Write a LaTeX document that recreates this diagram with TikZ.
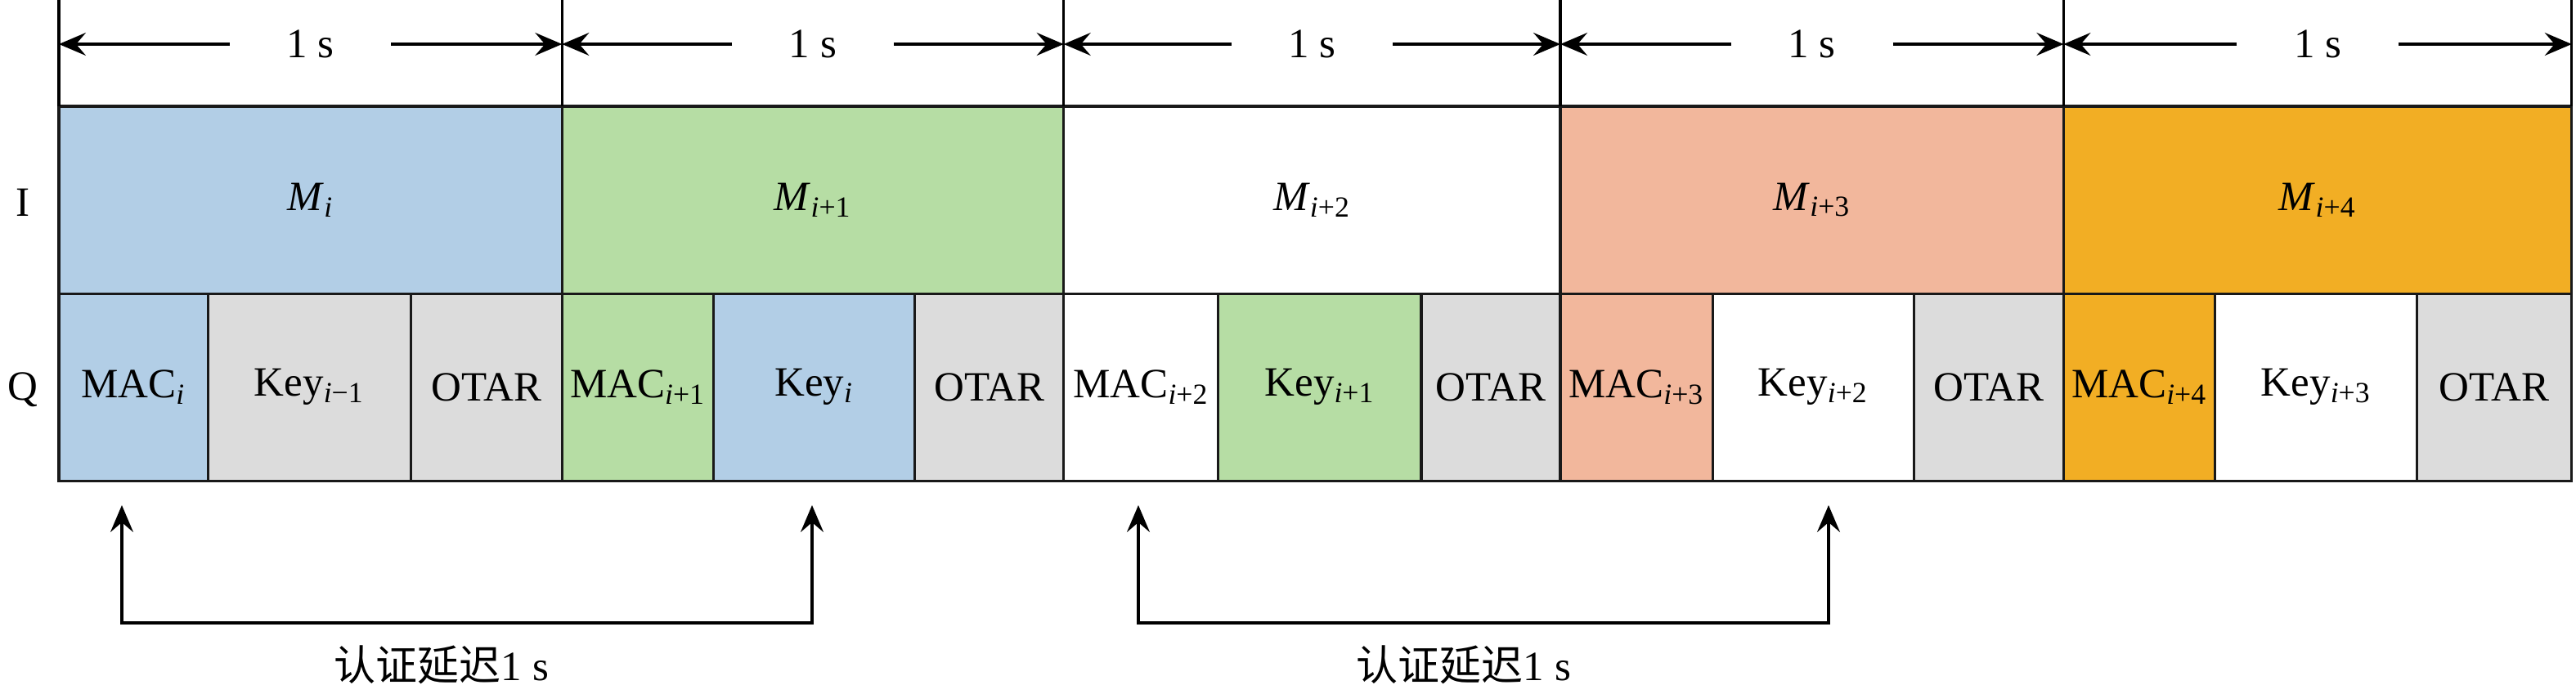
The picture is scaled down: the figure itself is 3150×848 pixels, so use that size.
\documentclass[tikz,border=0pt]{standalone}
\usepackage{fontspec}
\setmainfont{Liberation Serif}
\newfontfamily\cjk{Noto Sans CJK SC}
\usetikzlibrary{positioning,arrows.meta}
\definecolor{slotblue}{RGB}{178,206,230}
\definecolor{slotgreen}{RGB}{182,221,164}
\definecolor{slotsalmon}{RGB}{242,183,156}
\definecolor{slotorange}{RGB}{242,174,36}
\definecolor{slotgray}{RGB}{220,220,220}
\newcommand{\sub}[2]{#1\textsubscript{\textit{i}#2}}
\begin{document}
\begin{tikzpicture}[x=0.01cm, y=-0.01cm,
    every node/.style={font=\fontsize{14.5}{17}\selectfont},
    slot/.style={draw=black!90, line width=0.9pt, outer sep=0pt, inner sep=0pt, minimum height=2.29cm},
    frame/.style={slot, minimum width=#1},
    macbox/.style={slot, minimum width=#1},
    keybox/.style={slot, minimum width=#1},
    otarbox/.style={slot, minimum width=#1, fill=slotgray},
    span/.style={-{Stealth[length=3.3mm, width=2.8mm, inset=1.2mm]}, line width=0.9pt},
    delay/.style={{Stealth[length=3.3mm, width=2.8mm, inset=1.2mm]}-{Stealth[length=3.3mm, width=2.8mm, inset=1.2mm]}, line width=0.9pt}]
  \useasboundingbox (0,0) rectangle (3150,848);
  % I row
  \node[frame=6.15cm, anchor=north west, fill=slotblue] (M0) at (72,130) {\sub{\textit{M}}{}};
  \node[frame=6.13cm, right=0pt of M0, fill=slotgreen] (M1) {\sub{\textit{M}}{+1}};
  \node[frame=6.07cm, right=0pt of M1, fill=white] (M2) {\sub{\textit{M}}{+2}};
  \node[frame=6.15cm, right=0pt of M2, fill=slotsalmon] (M3) {\sub{\textit{M}}{+3}};
  \node[frame=6.21cm, right=0pt of M3, fill=slotorange] (M4) {\sub{\textit{M}}{+4}};
  % Q row
  \node[macbox=1.82cm, anchor=north west, fill=slotblue] (mac0) at (M0.south west) {\sub{MAC}{}};
  \node[keybox=2.48cm, right=0pt of mac0, fill=slotgray] (key0) {\sub{Key}{−1}};
  \node[otarbox=1.85cm, right=0pt of key0] (otar0) {OTAR};
  \node[macbox=1.85cm, right=0pt of otar0, fill=slotgreen] (mac1) {\sub{MAC}{+1}};
  \node[keybox=2.46cm, right=0pt of mac1, fill=slotblue] (key1) {\sub{Key}{}};
  \node[otarbox=1.82cm, right=0pt of key1] (otar1) {OTAR};
  \node[macbox=1.89cm, right=0pt of otar1, fill=white] (mac2) {\sub{MAC}{+2}};
  \node[keybox=2.48cm, right=0pt of mac2, fill=slotgreen] (key2) {\sub{Key}{+1}};
  \node[otarbox=1.70cm, right=0pt of key2] (otar2) {OTAR};
  \node[macbox=1.86cm, right=0pt of otar2, fill=slotsalmon] (mac3) {\sub{MAC}{+3}};
  \node[keybox=2.46cm, right=0pt of mac3, fill=white] (key3) {\sub{Key}{+2}};
  \node[otarbox=1.83cm, right=0pt of key3] (otar3) {OTAR};
  \node[macbox=1.85cm, right=0pt of otar3, fill=slotorange] (mac4) {\sub{MAC}{+4}};
  \node[keybox=2.47cm, right=0pt of mac4, fill=white] (key4) {\sub{Key}{+3}};
  \node[otarbox=1.89cm, right=0pt of key4] (otar4) {OTAR};
  % row labels
  \node (rowI) at (28,248) {I};
  \node (rowQ) at (28,477) {Q};
  % 1 s spans
  \foreach \n in {0,...,4}
    \coordinate (t\n) at (M\n.north west |- 0,0);
  \coordinate (t5) at (M4.north east |- 0,0);
  \foreach \n in {0,...,4}
    \draw[line width=0.9pt] (t\n) -- (M\n.north west);
  \draw[line width=0.9pt] (t5) -- (M4.north east);
  \foreach \n [evaluate=\n as \m using int(\n+1)] in {0,...,4} {
    \path (M\n.north) ++(0,-76) node[inner sep=0pt, minimum width=1.96cm] (s\n) {1 s};
    \draw[span] (s\n.west) -- (s\n.west -| t\n);
    \draw[span] (s\n.east) -- (s\n.east -| t\m);
  }
  % authentication delay
  \coordinate (d0) at (149,762);
  \coordinate (d1) at (993,762);
  \coordinate (d2) at (1392,762);
  \coordinate (d3) at (2236,762);
  \draw[delay] (d0 |- 0,618) -- (d0) -- (d1) -- (d1 |- 0,618);
  \draw[delay] (d2 |- 0,618) -- (d2) -- (d3) -- (d3 |- 0,618);
  \node (lag0) at (540,813) {{\cjk 认证延迟}1 s};
  \node (lag1) at (1790,813) {{\cjk 认证延迟}1 s};
\end{tikzpicture}
\end{document}
